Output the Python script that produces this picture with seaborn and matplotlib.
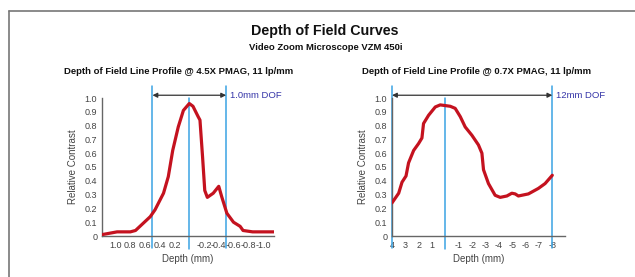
import numpy as np
import pandas as pd
from matplotlib import pyplot as plt
from matplotlib.lines import Line2D
import seaborn as sns

# values
left_depth = [1.185, 0.98, 0.86, 0.80, 0.73, 0.67, 0.58, 0.53, 0.465, 0.35, 0.285, 0.225,
              0.15, 0.08, 0.0, -0.05, -0.12, -0.145, -0.18, -0.21, -0.245, -0.325, -0.40,
              -0.44, -0.51, -0.60, -0.69, -0.73, -0.86, -1.15]
left_contrast = [0.01, 0.03, 0.03, 0.03, 0.04, 0.07, 0.115, 0.14, 0.19, 0.31, 0.43, 0.62,
                 0.79, 0.91, 0.96, 0.94, 0.865, 0.84, 0.575, 0.33, 0.28, 0.31, 0.36,
                 0.285, 0.165, 0.10, 0.07, 0.04, 0.03, 0.03]

right_depth = [4.0, 3.5, 3.25, 2.95, 2.76, 2.38, 2.01, 1.76, 1.64, 1.26, 0.76, 0.39, -0.36,
               -0.73, -1.11, -1.48, -1.98, -2.47, -2.73, -2.85, -3.22, -3.72, -4.10, -4.60,
               -4.97, -5.22, -5.46, -6.21, -6.96, -7.46, -8.0]
right_contrast = [0.24, 0.31, 0.39, 0.435, 0.53, 0.62, 0.67, 0.71, 0.815, 0.875, 0.935, 0.95,
                  0.94, 0.925, 0.865, 0.79, 0.73, 0.66, 0.60, 0.48, 0.38, 0.295, 0.28, 0.29,
                  0.31, 0.305, 0.29, 0.305, 0.345, 0.38, 0.44]

left_ticks = [1.0, 0.8, 0.6, 0.4, 0.2, -0.2, -0.4, -0.6, -0.8, -1.0]
left_ticklabels = ["1.0", "0.8", "0.6", "0.4", "0.2", "-0.2", "-0.4", "-0.6", "-0.8", "-1.0"]
right_ticks = [4, 3, 2, 1, -1, -2, -3, -4, -5, -6, -7, -8]
right_ticklabels = ["4", "3", "2", "1", "-1", "-2", "-3", "-4", "-5", "-6", "-7", "-8"]
y_ticks = [0, 0.1, 0.2, 0.3, 0.4, 0.5, 0.6, 0.7, 0.8, 0.9, 1.0]
y_ticklabels = ["0", "0.1", "0.2", "0.3", "0.4", "0.5", "0.6", "0.7", "0.8", "0.9", "1.0"]

left_dof = [0.5, 0.0, -0.5]
right_dof = [4.0, 0.0, -8.0]

sns.set_style("white")
plt.rcParams['font.family'] = ["Liberation Sans", "DejaVu Sans"]

RED = "#c4121f"
BLUE = "#3aa3e3"
DOF_TEXT = "#3535a8"
GRAY = "#444444"

fig = plt.figure(figsize=(6.35, 2.77), dpi=100)

# frame around the figure
fig.add_artist(Line2D([9 / 635, 1.0], [1 - 11 / 277, 1 - 11 / 277], color="#777777", lw=1.2))
fig.add_artist(Line2D([9 / 635, 9 / 635], [0, 1 - 11 / 277], color="#777777", lw=1.2))

fig.text(325 / 635, 1 - 31 / 277, "Depth of Field Curves", ha="center", va="center",
         fontsize=10.3, fontweight="heavy", color="#111111")
fig.text(326 / 635, 1 - 48 / 277, "Video Zoom Microscope VZM 450i", ha="center", va="center",
         fontsize=6.8, fontweight="bold", color="#111111")


def draw_panel(ax, depth, contrast, xlim, ticks, ticklabels, dof, dof_label, title, title_x):
    df = pd.DataFrame({"depth": depth, "contrast": contrast})
    sns.lineplot(data=df, x="depth", y="contrast", ax=ax, color=RED, lw=2.3,
                 estimator=None, sort=False, zorder=3)
    ax.set_xlim(*xlim)
    ax.set_ylim(0, 1.0)
    ax.set_xticks(ticks)
    ax.set_xticklabels(ticklabels)
    ax.set_yticks(y_ticks)
    ax.set_yticklabels(y_ticklabels)
    ax.tick_params(axis="both", length=2, width=0.8, color=GRAY, labelsize=6.5,
                   labelcolor=GRAY, pad=1.5)
    for side in ["top", "right"]:
        ax.spines[side].set_visible(False)
    for side in ["left", "bottom"]:
        ax.spines[side].set_color("#666666")
        ax.spines[side].set_linewidth(1.0)
    ax.set_xlabel("Depth (mm)", fontsize=7, color=GRAY, labelpad=3)
    ax.set_ylabel("Relative Contrast", fontsize=7, color=GRAY, labelpad=5)
    ax.set_title(title, fontsize=6.8, fontweight="bold", color="#111111", pad=17, x=title_x)

    # depth of field markers
    ax.plot([dof[0], dof[0]], [-0.087, 1.087], color=BLUE, lw=1.1, clip_on=False, zorder=2)
    ax.plot([dof[1], dof[1]], [-0.094, 1.0], color=BLUE, lw=1.1, clip_on=False, zorder=2)
    ax.plot([dof[2], dof[2]], [-0.087, 1.087], color=BLUE, lw=1.1, clip_on=False, zorder=2)
    ax.annotate("", xy=(dof[2], 1.02), xytext=(dof[0], 1.02), annotation_clip=False,
                arrowprops=dict(arrowstyle="<|-|>", color="#333333", lw=0.9,
                                shrinkA=0, shrinkB=0, mutation_scale=7))
    span = xlim[1] - xlim[0]
    ax.text(dof[2] + span * 0.02, 1.02, dof_label, fontsize=6.8, color=DOF_TEXT,
            ha="left", va="center", clip_on=False)


ax1 = fig.add_axes([102 / 635, 1 - 236 / 277, 172 / 635, 138 / 277])
draw_panel(ax1, left_depth, left_contrast, (1.185, -1.15), left_ticks, left_ticklabels,
           left_dof, "1.0mm DOF", "Depth of Field Line Profile @ 4.5X PMAG, 11 lp/mm", 0.445)

ax2 = fig.add_axes([392 / 635, 1 - 236 / 277, 173 / 635, 138 / 277])
draw_panel(ax2, right_depth, right_contrast, (4.0, -8.95), right_ticks, right_ticklabels,
           right_dof, "12mm DOF", "Depth of Field Line Profile @ 0.7X PMAG, 11 lp/mm", 0.488)

fig.savefig("out.png", dpi=100)
